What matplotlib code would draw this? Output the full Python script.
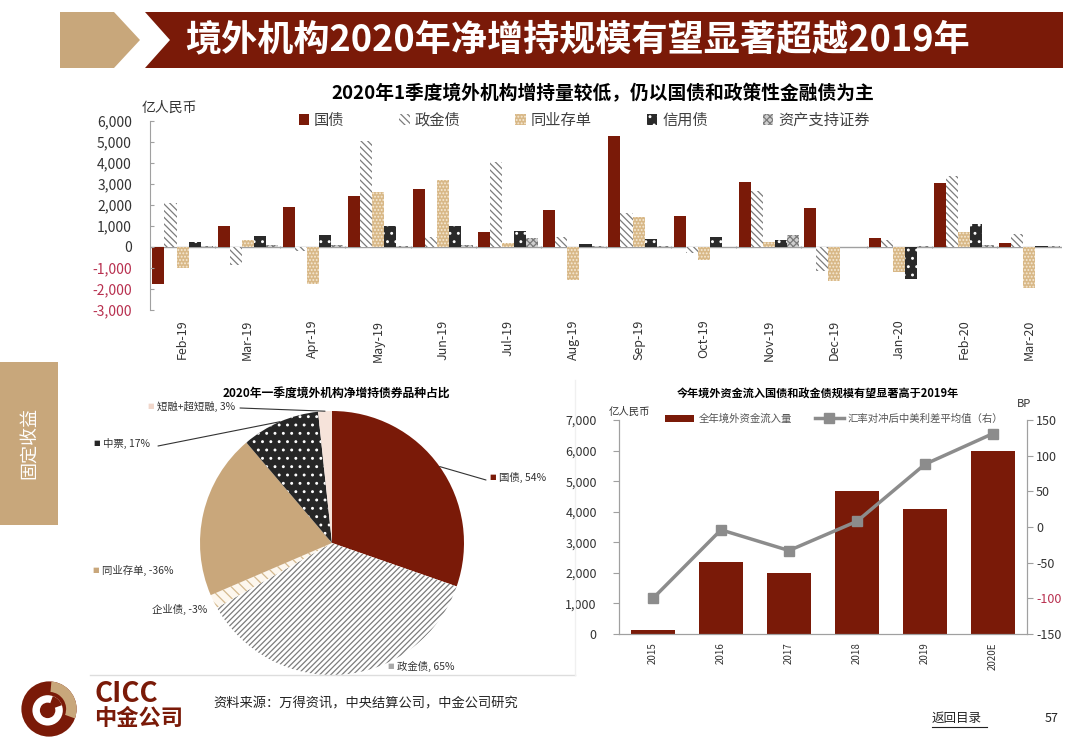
import numpy as np
import matplotlib
matplotlib.use("Agg")
import matplotlib.pyplot as plt
from matplotlib.patches import Polygon, Rectangle, Circle, Wedge
from matplotlib.lines import Line2D

plt.rcParams['font.family'] = ['Noto Sans CJK SC', 'DejaVu Sans']
plt.rcParams['hatch.linewidth'] = 0.9
plt.rcParams['axes.unicode_minus'] = False

# ---- data: top chart (亿人民币) ----
months = ['Feb-19', 'Mar-19', 'Apr-19', 'May-19', 'Jun-19', 'Jul-19', 'Aug-19',
          'Sep-19', 'Oct-19', 'Nov-19', 'Dec-19', 'Jan-20', 'Feb-20', 'Mar-20']
series_names = ['国债', '政金债', '同业存单', '信用债', '资产支持证券']
treasury = [-1750, 1000, 1900, 2450, 2750, 700, 1750, 5300, 1500, 3100, 1850, 450, 3050, 200]
policy_bank = [2100, -850, -200, 5050, 500, 4050, 500, 1600, -300, 2650, -1150, 350, 3400, 600]
ncd = [-1000, 330, -1750, 2600, 3200, 200, -1550, 1450, -600, 250, -1600, -1200, 700, -1950]
credit = [230, 520, 570, 1000, 1000, 750, 130, 380, 500, 350, 0, -1500, 1100, 30]
abs_sec = [60, 80, 80, 60, 80, 450, 40, 40, 10, 550, 10, 70, 80, 30]
top_yticks = [-3000, -2000, -1000, 0, 1000, 2000, 3000, 4000, 5000, 6000]

# ---- data: pie ----
pie_names = ['国债', '政金债', '企业债', '同业存单', '中票', '短融+超短融']
pie_pct = [54, 65, -3, -36, 17, 3]

# ---- data: bottom-right chart ----
years = ['2015', '2016', '2017', '2018', '2019', '2020E']
inflow = [120, 2340, 1990, 4670, 4080, 5990]
spread = [-100, -4, -33, 8, 88, 131]

W, H = 1080, 754
DARK_RED = '#7a1a08'
TAN = '#c8a77b'
GRAY_AX = '#a0a0a0'
NEG = '#b8304f'


def fx(x):
    return x / W


def fy(y):
    return 1 - y / H


def rect(x0, y0, x1, y1):
    return [x0 / W, 1 - y1 / H, (x1 - x0) / W, (y1 - y0) / H]


fig = plt.figure(figsize=(W / 100, H / 100), dpi=100)
fig.patch.set_facecolor('white')

# ---- header banner ----
tan_arrow = [(60, 12), (114, 12), (140, 40), (114, 68), (60, 68)]
red_band = [(145, 12), (1063, 12), (1063, 68), (145, 68), (170, 40)]
fig.add_artist(Polygon([(fx(a), fy(b)) for a, b in tan_arrow], closed=True,
                       transform=fig.transFigure, color=TAN, lw=0))
fig.add_artist(Polygon([(fx(a), fy(b)) for a, b in red_band], closed=True,
                       transform=fig.transFigure, color=DARK_RED, lw=0))
fig.text(fx(185), fy(40), '境外机构2020年净增持规模有望显著超越2019年', color='white',
         fontsize=26, fontweight='bold', ha='left', va='center')

# ---- left tab ----
fig.add_artist(Rectangle((0, fy(525)), fx(58), (525 - 362) / H,
                         transform=fig.transFigure, color=TAN, lw=0))
fig.text(fx(29), fy(443), '固定收益', color='white', fontsize=13,
         rotation=90, ha='center', va='center')

# ---- top chart ----
ax1 = fig.add_axes(rect(150, 121, 1062, 310))
x = np.arange(len(months))
bw = 0.185
styles = [
    dict(color=DARK_RED),
    dict(facecolor='white', edgecolor='#7c7c7c', hatch='\\\\\\\\\\'),
    dict(facecolor='#d8b887', edgecolor='#f6ead6', hatch='.....'),
    dict(facecolor='#2a2a2a', edgecolor='white', hatch='..'),
    dict(facecolor='#cfcfcf', edgecolor='#7a7a7a', hatch='xxxxx'),
]
for i, (vals, name, st) in enumerate(zip([treasury, policy_bank, ncd, credit, abs_sec],
                                          series_names, styles)):
    ax1.bar(x + (i - 2) * bw, vals, bw, label=name, linewidth=0, **st)
ax1.set_xlim(-0.5, len(months) - 0.5)
ax1.set_ylim(-3000, 6000)
ax1.axhline(0, color=GRAY_AX, lw=1, zorder=0.5)
ax1.vlines(np.arange(-0.5, len(months)), -70, 70, color=GRAY_AX, lw=0.8)
for s in ['top', 'right', 'bottom']:
    ax1.spines[s].set_visible(False)
ax1.spines['left'].set_color(GRAY_AX)
ax1.set_xticks(x)
ax1.set_xticklabels(months, rotation=90, fontsize=9, color='#333333')
ax1.tick_params(axis='x', length=0, pad=7)
ax1.set_yticks(top_yticks)
ax1.set_yticklabels([f'{v:,}' for v in top_yticks])
ax1.tick_params(axis='y', direction='in', length=3, color=GRAY_AX, pad=13,
                labelsize=10, labelcolor='#333333')
for lab, v in zip(ax1.get_yticklabels(), top_yticks):
    if v < 0:
        lab.set_color(NEG)
ax1.legend(ncol=5, loc='center', bbox_to_anchor=(0.476, 1.005), frameon=False,
           fontsize=11, handlelength=0.7, handleheight=0.7, handletextpad=0.3,
           columnspacing=3.6, labelcolor='#404040')
fig.text(fx(603), fy(94), '2020年1季度境外机构增持量较低，仍以国债和政策性金融债为主',
         ha='center', va='center', fontsize=13.5, fontweight='bold')
fig.text(fx(142), fy(108), '亿人民币', ha='left', va='center', fontsize=10, color='#333333')

# ---- pie panel ----
fig.add_artist(Line2D([fx(90), fx(575)], [fy(675), fy(675)], transform=fig.transFigure,
                      color='#dddddd', lw=1))
fig.add_artist(Line2D([fx(575), fx(575)], [fy(380), fy(675)], transform=fig.transFigure,
                      color='#f0f0f0', lw=1))
ax2 = fig.add_axes(rect(200, 411, 464, 675))
wedges, _ = ax2.pie(np.abs(pie_pct), startangle=90, counterclock=False,
                    wedgeprops=dict(linewidth=0))
pie_styles = [
    dict(facecolor=DARK_RED, edgecolor=DARK_RED),
    dict(facecolor='white', edgecolor='#7c7c7c', hatch='//////'),
    dict(facecolor='#fdf7ee', edgecolor='#d4b98e', hatch='\\\\\\'),
    dict(facecolor='#c9a77b', edgecolor='#c9a77b'),
    dict(facecolor='#262626', edgecolor='white', hatch='..'),
    dict(facecolor='#f6e3da', edgecolor='#f6e3da'),
]
for wd, st in zip(wedges, pie_styles):
    wd.set_facecolor(st['facecolor'])
    wd.set_edgecolor(st['edgecolor'])
    if 'hatch' in st:
        wd.set_hatch(st['hatch'])
    wd.set_linewidth(0)
ax2.set_xlim(-1, 1)
ax2.set_ylim(-1, 1)
ax2.set_aspect('equal')

# label layout: (text left x, y, marker color or None, leader line start or None)
pie_layout = [
    (499, 477, DARK_RED, (486, 480)),
    (397, 666, '#a8a8a8', None),
    (152, 609, None, None),
    (102, 570, '#c9a77b', None),
    (103, 443, '#262626', (158, 446)),
    (157, 406, '#f1d7cb', (240, 408)),
]
for wd, name, pct, (tx, ty, mcol, lstart) in zip(wedges, pie_names, pie_pct, pie_layout):
    fig.text(fx(tx), fy(ty), f'{name}, {pct}%', fontsize=7.5, ha='left', va='center',
             color='#333333')
    if mcol is not None:
        fig.text(fx(tx - 3), fy(ty), '■', fontsize=5, ha='right', va='center',
                 color=mcol, family='DejaVu Sans')
    if lstart is not None:
        ang = np.deg2rad((wd.theta1 + wd.theta2) / 2)
        ax2.annotate('', xy=(np.cos(ang), np.sin(ang)), xycoords='data',
                     xytext=(lstart[0], H - lstart[1]), textcoords='figure pixels',
                     arrowprops=dict(arrowstyle='-', color='#333333', lw=0.8,
                                     shrinkA=0, shrinkB=0))
fig.text(fx(336), fy(393), '2020年一季度境外机构净增持债券品种占比', ha='center',
         va='center', fontsize=8.5, fontweight='bold')

# ---- bottom-right chart ----
ax3 = fig.add_axes(rect(619, 420, 1027, 634))
x3 = np.arange(len(years))
ax3.bar(x3, inflow, 0.66, color=DARK_RED, label='全年境外资金流入量')
ax3.set_xlim(-0.5, len(years) - 0.5)
ax3.set_ylim(0, 7000)
left_ticks = list(range(0, 7001, 1000))
ax3.set_yticks(left_ticks)
ax3.set_yticklabels([f'{v:,}' for v in left_ticks])
ax3.set_xticks(x3)
ax3.set_xticklabels(years, rotation=90, fontsize=7, color='#333333')
ax3.tick_params(axis='x', length=0, pad=6)
ax3.tick_params(axis='y', direction='out', length=4, color=GRAY_AX, pad=12,
                labelsize=9, labelcolor='#333333')
ax4 = ax3.twinx()
ax4.plot(x3, spread, color='#8c8c8c', lw=2.5, marker='s', ms=7,
         label='汇率对冲后中美利差平均值（右）')
ax4.set_ylim(-150, 150)
right_ticks = list(range(-150, 151, 50))
ax4.set_yticks(right_ticks)
ax4.set_yticklabels([str(v) for v in right_ticks])
ax4.tick_params(axis='y', direction='out', length=4, color=GRAY_AX, pad=2.5,
                labelsize=9, labelcolor='#333333')
for lab, v in zip(ax4.get_yticklabels(), right_ticks):
    if v == -100:
        lab.set_color(NEG)
for a in (ax3, ax4):
    a.spines['top'].set_visible(False)
    for s in ['left', 'right', 'bottom']:
        a.spines[s].set_color(GRAY_AX)
h1, l1 = ax3.get_legend_handles_labels()
h2, l2 = ax4.get_legend_handles_labels()
ax4.legend(h1 + h2, l1 + l2, ncol=2, loc='center left', bbox_to_anchor=(0.09, 1.005),
           frameon=False, fontsize=7.5, handlelength=2.8, handletextpad=0.4,
           columnspacing=2.2, labelcolor='#555555')
fig.text(fx(818), fy(393), '今年境外资金流入国债和政金债规模有望显著高于2019年',
         ha='center', va='center', fontsize=8, fontweight='bold')
fig.text(fx(609), fy(412), '亿人民币', ha='left', va='center', fontsize=7.5, color='#333333')
fig.text(fx(1017), fy(404), 'BP', ha='left', va='center', fontsize=8, color='#333333')

# ---- footer ----
ax_logo = fig.add_axes(rect(20, 680, 78, 738))
ax_logo.add_patch(Circle((0, 0), 1, color=DARK_RED, lw=0))
ax_logo.add_patch(Wedge((0, 0), 1, -20, 85, width=0.38, color=TAN, lw=0))
ax_logo.add_patch(Circle((-0.05, -0.05), 0.55, color='white', lw=0))
ax_logo.add_patch(Wedge((-0.05, -0.05), 0.55, 20, 70, color=DARK_RED, lw=0))
ax_logo.add_patch(Circle((-0.05, -0.05), 0.28, color=DARK_RED, lw=0))
ax_logo.set_xlim(-1.05, 1.05)
ax_logo.set_ylim(-1.05, 1.05)
ax_logo.set_aspect('equal')
ax_logo.axis('off')
fig.text(fx(94), fy(694), 'CICC', fontsize=20, fontweight='bold', color=DARK_RED,
         ha='left', va='center')
fig.text(fx(94), fy(718), '中金公司', fontsize=16, fontweight='bold', color=DARK_RED,
         ha='left', va='center')
fig.text(fx(213), fy(704), '资料来源：万得资讯，中央结算公司，中金公司研究', fontsize=9.5,
         ha='left', va='center', color='#222222')
fig.text(fx(932), fy(718), '返回目录', fontsize=9, ha='left', va='center', color='#222222')
fig.add_artist(Line2D([fx(932), fx(987)], [fy(727), fy(727)], transform=fig.transFigure,
                      color='#222222', lw=0.8))
fig.text(fx(1045), fy(718), '57', fontsize=9, ha='left', va='center', color='#222222')

fig.savefig('out.png', dpi=100)
